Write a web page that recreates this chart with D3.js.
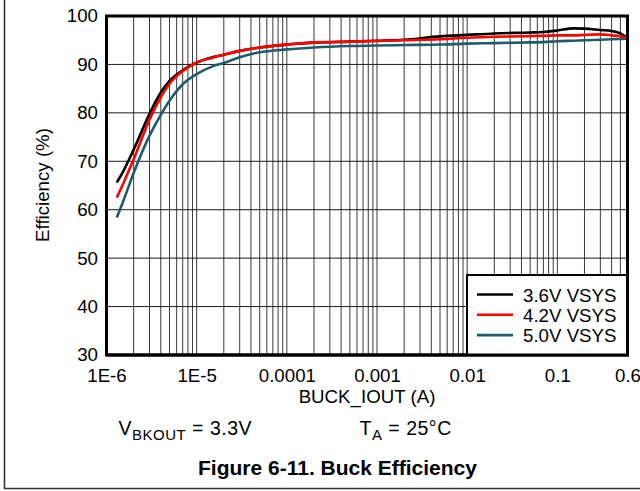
<!DOCTYPE html>
<html>
<head>
<meta charset="utf-8">
<script src="https://cdn.jsdelivr.net/npm/d3@7"></script>
<style>
  html, body { margin: 0; padding: 0; background: #fff; }
  svg { display: block; }
  text { font-family: "Liberation Sans", Arial, sans-serif; fill: #000; }
</style>
</head>
<body>
<svg id="chart" width="640" height="491"></svg>
<script>
// ---- data ----
const currents = [1.3e-6, 1.5e-6, 2e-6, 3e-6, 4e-6, 5e-6, 7e-6, 1e-5, 1.5e-5, 2e-5, 3e-5, 5e-5,
  1e-4, 2e-4, 5e-4, 1e-3, 2e-3, 5e-3, 1e-2, 2e-2, 5e-2, 0.07, 0.1, 0.15, 0.2, 0.3, 0.4, 0.5, 0.6];
const eff36 = [65.6, 67.6, 72.4, 79.8, 84.2, 86.6, 88.8, 90.4, 91.5, 92.0, 92.8, 93.5,
  94.1, 94.5, 94.7, 94.9, 95.1, 95.8, 96.1, 96.4, 96.6, 96.7, 97.0, 97.45, 97.4, 97.1, 96.9, 96.4, 95.5];
const eff42 = [62.5, 65.0, 70.4, 78.6, 83.2, 86.0, 88.6, 90.4, 91.4, 92.0, 92.8, 93.5,
  94.1, 94.5, 94.7, 94.85, 95.0, 95.2, 95.5, 95.7, 95.85, 95.9, 96.0, 96.0, 96.1, 96.2, 96.0, 95.8, 95.4];
const eff50 = [58.4, 61.3, 67.6, 75.3, 79.6, 82.5, 85.9, 88.0, 89.6, 90.3, 91.5, 92.5,
  93.1, 93.5, 93.8, 93.9, 94.0, 94.1, 94.3, 94.4, 94.55, 94.6, 94.8, 94.9, 95.0, 95.1, 95.2, 95.25, 95.3];
const seriesNames = ["3.6V VSYS", "4.2V VSYS", "5.0V VSYS"];
const seriesColors = ["#000000", "#ff0000", "#1d5d6b"];
const xTickValues = [1e-6, 1e-5, 1e-4, 1e-3, 1e-2, 0.1, 0.6];
const xTickLabels = ["1E-6", "1E-5", "0.0001", "0.001", "0.01", "0.1", "0.6"];
const yTickValues = [30, 40, 50, 60, 70, 80, 90, 100];

// ---- layout ----
const svg = d3.select("#chart");
const L = 106.5, R = 627.5, T = 16, B = 355;
const x = d3.scaleLog().domain([1e-6, 0.6]).range([L, R]);
const y = d3.scaleLinear().domain([30, 100]).range([B, T]);
const FONT = 18.7;

// outer frame (only left & bottom visible)
svg.append("path")
  .attr("d", "M4.5,-5V488.5H650")
  .attr("fill", "none").attr("stroke", "#333").attr("stroke-width", 1.6);

// grid
const gridX = [];
for (let e = -6; e <= -1; e++) for (let k = 1; k <= 9; k++) {
  const v = k * Math.pow(10, e);
  if (v > 1e-6 && v < 0.6) gridX.push(v);
}
const grid = svg.append("g");
grid.selectAll("line.vx").data(gridX).join("line")
  .attr("x1", d => x(d)).attr("x2", d => x(d))
  .attr("y1", T).attr("y2", B)
  .attr("stroke", "#3a3a3a").attr("stroke-width", 1);
grid.selectAll("line.hy").data(yTickValues.filter(v => v > 30 && v < 100)).join("line")
  .attr("x1", L).attr("x2", R)
  .attr("y1", d => y(d)).attr("y2", d => y(d))
  .attr("stroke", "#1a1a1a").attr("stroke-width", 1);

// curves
const line = d3.line()
  .x(d => x(d[0])).y(d => y(d[1]))
  .curve(d3.curveMonotoneX);
const allSeries = [eff36, eff42, eff50];
const order = [2, 0, 1];
order.forEach(i => {
  svg.append("path")
    .datum(currents.map((c, j) => [c, allSeries[i][j]]))
    .attr("d", line)
    .attr("fill", "none")
    .attr("stroke", seriesColors[i])
    .attr("stroke-width", 2.6)
    .attr("stroke-linejoin", "round");
});

// plot border
svg.append("rect")
  .attr("x", L).attr("y", T).attr("width", R - L).attr("height", B - T)
  .attr("fill", "none").attr("stroke", "#000").attr("stroke-width", 3);

// legend
const lg = svg.append("g");
lg.append("rect")
  .attr("x", 467).attr("y", 275).attr("width", 160.5).attr("height", 80)
  .attr("fill", "#fff").attr("stroke", "#000").attr("stroke-width", 2);
seriesNames.forEach((name, i) => {
  const ly = 294.5 + i * 20.3;
  lg.append("line").attr("x1", 477).attr("x2", 513).attr("y1", ly).attr("y2", ly)
    .attr("stroke", seriesColors[i]).attr("stroke-width", 2.6);
  lg.append("text").attr("x", 523).attr("y", ly + 7.2)
    .attr("font-size", FONT).text(name);
});
svg.append("path")
  .attr("d", `M${R},${T}V${B}H${L}`)
  .attr("fill", "none").attr("stroke", "#000").attr("stroke-width", 3);

// y axis
const yAxis = d3.axisLeft(y).tickValues(yTickValues).tickSize(0).tickPadding(0);
const gy = svg.append("g").attr("transform", `translate(98,0)`).call(yAxis);
gy.select(".domain").remove();
gy.selectAll("text").attr("font-size", FONT)
  .attr("font-family", '"Liberation Sans", Arial, sans-serif').attr("fill", "#000");

// x axis
const xAxis = d3.axisBottom(x).tickValues(xTickValues)
  .tickFormat((d, i) => xTickLabels[i]).tickSize(0).tickPadding(0);
const gx = svg.append("g").attr("transform", `translate(0,${B})`).call(xAxis);
gx.select(".domain").remove();
gx.selectAll("text").attr("font-size", FONT).attr("dy", null).attr("y", 27)
  .attr("font-family", '"Liberation Sans", Arial, sans-serif').attr("fill", "#000");

// axis titles
svg.append("text").attr("x", (L + R) / 2).attr("y", 402.5)
  .attr("text-anchor", "middle").attr("font-size", FONT).text("BUCK_IOUT (A)");
svg.append("text").attr("transform", "translate(48.5,185) rotate(-90)")
  .attr("text-anchor", "middle").attr("font-size", FONT).text("Efficiency (%)");

// conditions
const CF = 19.5;
const c1 = svg.append("text").attr("x", 118.5).attr("y", 434.5)
  .attr("font-size", CF).attr("letter-spacing", 0.5);
c1.append("tspan").text("V");
c1.append("tspan").attr("font-size", 15).attr("dy", 5).text("BKOUT");
c1.append("tspan").attr("dy", -5).text(" = 3.3V");
const c2 = svg.append("text").attr("x", 359.5).attr("y", 434.5)
  .attr("font-size", CF).attr("letter-spacing", 0.5);
c2.append("tspan").text("T");
c2.append("tspan").attr("font-size", 15).attr("dy", 5).text("A");
c2.append("tspan").attr("dy", -5).text(" = 25°C");

// figure caption
svg.append("text").attr("x", 337.5).attr("y", 474.5)
  .attr("text-anchor", "middle").attr("font-size", 21).attr("font-weight", "bold")
  .text("Figure 6-11. Buck Efficiency");
</script>
</body>
</html>
